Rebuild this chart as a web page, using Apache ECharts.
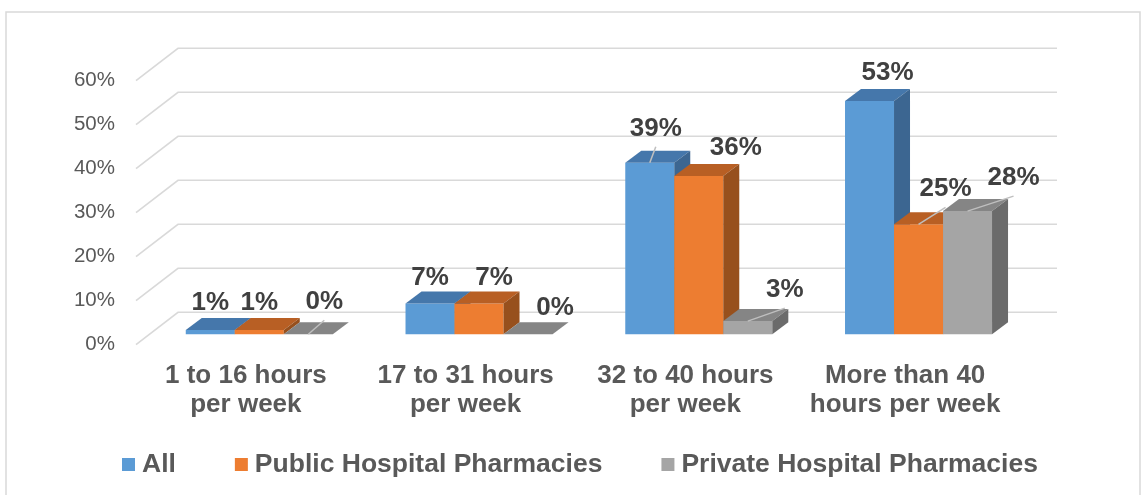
<!DOCTYPE html>
<html>
<head>
<meta charset="utf-8">
<script src="https://cdn.jsdelivr.net/npm/echarts@6/dist/echarts.min.js"></script>
<style>
  html, body { margin: 0; padding: 0; background: #fff; }
  #chart { width: 1141px; height: 495px; }
</style>
</head>
<body>
<div id="chart"></div>
<script>
const categories = ['1 to 16 hours\nper week', '17 to 31 hours\nper week', '32 to 40 hours\nper week', 'More than 40\nhours per week']
const seriesNames = ['All', 'Public Hospital Pharmacies', 'Private Hospital Pharmacies']
const allValues = [0.01, 0.07, 0.39, 0.53]
const publicValues = [0.01, 0.07, 0.36, 0.25]
const privateValues = [0.00, 0.00, 0.03, 0.28]
const yTicks = [0, 0.1, 0.2, 0.3, 0.4, 0.5, 0.6]

// label nudges (px) from the top-front centre of each bar
const labelNudge = [
  [[0, -27], [0, -26], [6, -34], [18, -28]],
  [[0, -27], [15, -26], [37, -28], [27, -35]],
  [[16, -32], [27, -26], [37, -31], [46, -33]]
]

const FONT = "'Liberation Sans', Arial, sans-serif"
const WALL = [42, -32.3]   // depth of the floor / back wall
const SHIFT = [13.4, -10.3] // bars sit in the middle of the depth
const DEPTH = [16, -12]     // depth of one bar
const faces = [
  { front: '#5B9BD5', top: '#4577AB', side: '#3C6691' },
  { front: '#ED7D31', top: '#B85F24', side: '#97501D' },
  { front: '#A5A5A5', top: '#858585', side: '#6B6B6B' }
]

const chart = echarts.init(document.getElementById('chart'))

const renderGridLine = (params, api) => {
  const cs = params.coordSys
  const y = api.coord([0, api.value(0)])[1]
  const x = cs.x
  return {
    type: 'polyline',
    shape: { points: [[x, y], [x + WALL[0], y + WALL[1]], [x + cs.width + WALL[0], y + WALL[1]]] },
    style: { stroke: '#D9D9D9', lineWidth: 1.6, fill: null },
    z2: 0
  }
}

const makeBarRenderer = (si) => (params, api) => {
  const ci = api.value(0)
  const val = api.value(1)
  const base = api.coord([ci, 0])
  const top = api.coord([ci, val])
  const band = api.size([1, 0])[0]
  const bw = band * 0.223
  const x0 = base[0] - 1.5 * bw + si * bw + SHIFT[0]
  const x1 = x0 + bw
  const by = base[1] + SHIFT[1]
  const ty = top[1] + SHIFT[1]
  const c = faces[si]
  const dx = DEPTH[0], dy = DEPTH[1]
  const cx = x0 + bw / 2
  const nudge = labelNudge[si][ci]
  const lx = cx + nudge[0]
  const ly = ty + nudge[1]
  const children = [
    { type: 'rect', shape: { x: x0, y: ty, width: bw, height: by - ty }, style: { fill: c.front }, z2: 10 },
    { type: 'polygon', shape: { points: [[x0, ty], [x1, ty], [x1 + dx, ty + dy], [x0 + dx, ty + dy]] }, style: { fill: c.top }, z2: 10 },
    { type: 'polygon', shape: { points: [[x1, ty], [x1 + dx, ty + dy], [x1 + dx, by + dy], [x1, by]] }, style: { fill: c.side }, z2: 10 }
  ]
  if (nudge[1] <= -30) {
    children.push({
      type: 'line',
      shape: { x1: lx, y1: ly + 18, x2: cx, y2: ty },
      style: { stroke: '#BFBFBF', lineWidth: 1.5 },
      z2: 20
    })
  }
  children.push({
    type: 'text',
    style: {
      text: Math.round(val * 100) + '%',
      x: lx, y: ly,
      align: 'center', verticalAlign: 'middle',
      fontSize: 26, fontWeight: 'bold', fontFamily: FONT,
      fill: '#404040'
    },
    z2: 30
  })
  return { type: 'group', children }
}

const seriesValues = [allValues, publicValues, privateValues]

const option = {
  backgroundColor: '#fff',
  animation: false,
  graphic: [{
    type: 'rect',
    shape: { x: 6, y: 12, width: 1134, height: 495 },
    style: { fill: 'none', stroke: '#D9D9D9', lineWidth: 1.5 },
    silent: true
  }],
  grid: { left: 136, right: 126, top: 80.6, bottom: 150.4 },
  legend: {
    data: seriesNames,
    left: 122,
    top: 451,
    padding: 0,
    icon: 'rect',
    itemWidth: 13,
    itemHeight: 13,
    itemGap: 59,
    textStyle: { fontSize: 26.5, fontWeight: 'bold', color: '#595959', fontFamily: FONT, padding: [0, 0, 0, 2] }
  },
  xAxis: {
    type: 'category',
    data: categories,
    axisLine: { show: false },
    axisTick: { show: false },
    axisLabel: {
      fontSize: 26, fontWeight: 'bold', color: '#595959', fontFamily: FONT,
      lineHeight: 29, margin: 17, interval: 0
    }
  },
  yAxis: {
    type: 'value',
    min: 0,
    max: 0.6,
    interval: 0.1,
    axisLine: { show: false },
    axisTick: { show: false },
    splitLine: { show: false },
    axisLabel: {
      fontSize: 20.5, color: '#595959', fontFamily: FONT, margin: 21,
      formatter: v => Math.round(v * 100) + '%'
    }
  },
  series: [
    {
      type: 'custom',
      name: 'grid',
      renderItem: renderGridLine,
      data: yTicks.map(v => [v]),
      encode: { y: 0 },
      silent: true,
      z: 1
    },
    ...seriesNames.map((name, si) => ({
      type: 'custom',
      name,
      itemStyle: { color: faces[si].front },
      renderItem: makeBarRenderer(si),
      data: seriesValues[si].map((v, ci) => [ci, v]),
      encode: { x: 0, y: 1 },
      z: 2
    }))
  ]
}

chart.setOption(option)
</script>
</body>
</html>
